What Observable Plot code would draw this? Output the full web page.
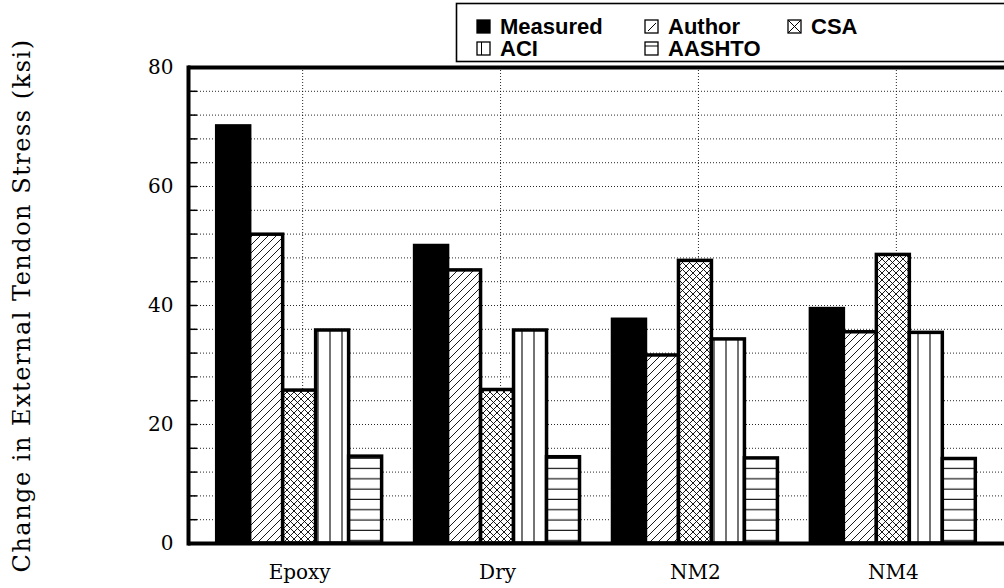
<!DOCTYPE html>
<html>
<head>
<meta charset="utf-8">
<script src="https://cdn.jsdelivr.net/npm/d3@7"></script>
<script src="https://cdn.jsdelivr.net/npm/@observablehq/plot@0.6"></script>
<style>
  html, body { margin: 0; padding: 0; background: #fff; color: #000; }
  #wrap { position: relative; width: 1004px; height: 588px; overflow: hidden; }
  #legend { position: absolute; left: 0; top: 0; }
</style>
</head>
<body>
<div id="wrap"></div>
<script>
// ---- data ----
const groups = ["Epoxy", "Dry", "NM2", "NM4"];
const seriesNames = ["Measured", "Author", "CSA", "ACI", "AASHTO"];
const measured = [70.1, 50.0, 37.6, 39.4];
const author   = [51.9, 45.9, 31.6, 35.5];
const csa      = [25.7, 25.8, 47.5, 48.5];
const aci      = [35.8, 35.8, 34.3, 35.4];
const aashto   = [14.6, 14.5, 14.3, 14.2];
const yTickLabels = [0, 20, 40, 60, 80];
const yLabel = "Change in External Tendon Stress (ksi)";

const valuesBySeries = {Measured: measured, Author: author, CSA: csa, ACI: aci, AASHTO: aashto};
const fills = ["black", "url(#pat-author)", "url(#pat-csa)", "url(#pat-aci)", "url(#pat-aashto)"];

const rows = groups.flatMap((g, gi) => seriesNames.map(s => ({
  group: g, series: s, key: g + "|" + s, value: valuesBySeries[s][gi]
})));
// band domain: bars of each group, with one empty slot between groups
const xDomain = groups.flatMap((g, i) => [
  ...seriesNames.map(s => g + "|" + s),
  ...(i < groups.length - 1 ? ["gap" + i] : [])
]);
const middleKeys = groups.map(g => g + "|" + seriesNames[2]);

const serif = "'DejaVu Serif', serif";

const chart = Plot.plot({
  width: 1004,
  height: 588,
  marginTop: 67,
  marginBottom: 45,
  marginLeft: 188,
  marginRight: 0,
  style: {background: "white", color: "black", overflow: "visible"},
  x: {type: "band", domain: xDomain, paddingInner: 0, paddingOuter: 0.87, round: false},
  y: {domain: [0, 80]},
  color: {type: "ordinal", domain: seriesNames, range: fills},
  marks: [
    Plot.gridY(d3.range(4, 80, 4), {stroke: "#000", strokeOpacity: 0.85, strokeWidth: 1, strokeDasharray: "1,2"}),
    Plot.gridX(middleKeys, {stroke: "#000", strokeOpacity: 0.85, strokeWidth: 1, strokeDasharray: "1,2", dx: 3}),
    Plot.axisY(d3.range(0, 81, 4), {tickSize: -9, tickFormat: () => "", strokeWidth: 1.5, label: null}),
    Plot.barY(rows, {x: "key", y: "value", fill: "series", stroke: "black", strokeWidth: 3.5}),
    Plot.ruleY([0, 80], {stroke: "black", strokeWidth: 4}),
    Plot.frame({anchor: "left", stroke: "black", strokeWidth: 4}),
    Plot.axisY(yTickLabels, {tickSize: 0, tickPadding: 15, fontSize: 20, fontFamily: serif, label: null}),
    Plot.axisX(middleKeys, {tickSize: 0, tickPadding: 21, tickFormat: k => k.split("|")[0], fontSize: 20, fontFamily: serif, label: null}),
    Plot.text([yLabel], {text: d => d, frameAnchor: "left", textAnchor: "middle", dx: -166, rotate: -90, fontSize: 24, fontFamily: serif, fill: "black"})
  ]
});

// widen the axis title's letter spacing like the original typeface
chart.querySelectorAll("text").forEach(t => {
  if (t.textContent === yLabel) t.setAttribute("letter-spacing", "1.5");
});

// patterns
const ns = "http://www.w3.org/2000/svg";
const defs = document.createElementNS(ns, "defs");
defs.innerHTML = `
  <pattern id="pat-author" patternUnits="userSpaceOnUse" width="8" height="8">
    <rect width="8" height="8" fill="white"/>
    <path d="M-2,2 L2,-2 M0,8 L8,0 M6,10 L10,6" stroke="black" stroke-width="0.9"/>
  </pattern>
  <pattern id="pat-csa" patternUnits="userSpaceOnUse" width="7" height="7">
    <rect width="7" height="7" fill="white"/>
    <path d="M0,0 L7,7 M7,0 L0,7" stroke="black" stroke-width="0.9"/>
  </pattern>
  <pattern id="pat-aci" patternUnits="userSpaceOnUse" width="12" height="10">
    <rect width="12" height="10" fill="white"/>
    <path d="M6,0 L6,10" stroke="black" stroke-width="1.1"/>
  </pattern>
  <pattern id="pat-aashto" patternUnits="userSpaceOnUse" width="10" height="10.3">
    <rect width="10" height="10.3" fill="white"/>
    <path d="M0,5 L10,5" stroke="black" stroke-width="1.1"/>
  </pattern>`;
chart.insertBefore(defs, chart.firstChild);

const wrap = document.getElementById("wrap");
wrap.appendChild(chart);

// legend (overlaid above the plot frame)
const legendItems = [
  {name: seriesNames[0], x: 477, y: 20},
  {name: seriesNames[1], x: 645, y: 20},
  {name: seriesNames[2], x: 788, y: 20},
  {name: seriesNames[3], x: 477, y: 42},
  {name: seriesNames[4], x: 645, y: 42}
];
function swatch(name, x, y) {
  const s = 13;
  const base = `<rect x="${x}" y="${y}" width="${s}" height="${s}" fill="${name === "Measured" ? "black" : "white"}" stroke="black" stroke-width="1.3"/>`;
  let extra = "";
  if (name === "Author") extra = `<path d="M${x+3},${y+s-2} L${x+s-2},${y+3}" stroke="black" stroke-width="1"/>`;
  if (name === "CSA") extra = `<path d="M${x},${y} L${x+s},${y+s} M${x+s},${y} L${x},${y+s}" stroke="black" stroke-width="1"/>`;
  if (name === "ACI") extra = `<path d="M${x+4.5},${y} L${x+4.5},${y+s}" stroke="black" stroke-width="1"/>`;
  if (name === "AASHTO") extra = `<path d="M${x},${y+4} L${x+s},${y+4}" stroke="black" stroke-width="1"/>`;
  return base + extra;
}
const legend = document.createElementNS(ns, "svg");
legend.setAttribute("id", "legend");
legend.setAttribute("width", 1004);
legend.setAttribute("height", 66);
legend.innerHTML =
  `<rect x="456.5" y="3.5" width="600" height="58" fill="white" stroke="black" stroke-width="1.6"/>` +
  legendItems.map(d => swatch(d.name, d.x, d.y) +
    `<text x="${d.x + 23}" y="${d.y + 14}" font-family="'Liberation Sans', Arial, sans-serif" font-weight="bold" font-size="22" fill="black">${d.name}</text>`).join("");
wrap.appendChild(legend);
</script>
</body>
</html>
